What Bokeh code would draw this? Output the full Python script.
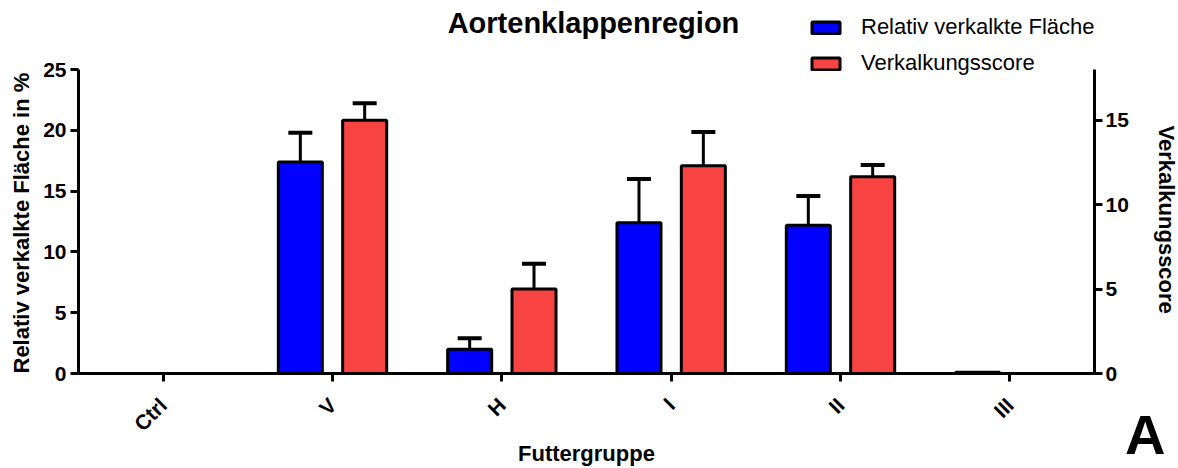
import math
from bokeh.plotting import figure
from bokeh.models import (FactorRange, Range1d, LinearAxis, FixedTicker, ColumnDataSource,
                          Legend, LegendItem, Label, Whisker, TeeHead, Title)
from bokeh.transform import dodge
from bokeh.embed import file_html
from bokeh.resources import INLINE

# ---- data ----
groups = ["Ctrl", "V", "H", "I", "II", "III"]
area_mean = [0.0, 17.4, 2.0, 12.4, 12.2, 0.1]      # Relativ verkalkte Fläche in %
area_err = [0.0, 2.4, 0.9, 3.6, 2.4, 0.0]
score_mean = [0.0, 15.0, 5.0, 12.3, 11.65, 0.0]    # Verkalkungsscore
score_err = [0.0, 1.0, 1.5, 2.0, 0.7, 0.0]
left_ticks = [0, 5, 10, 15, 20, 25]
right_ticks = [0, 5, 10, 15]
left_max = 25
right_max = 18

FONT = "Liberation Sans"
BLUE = "#0000ff"
RED = "#f84343"

# layout (pixels)
FRAME_W, FRAME_H = 1016, 373     # frame reaches the top of the canvas
AXIS_H = 304                     # drawn length of the y axes

src = ColumnDataSource(dict(group=groups, area=area_mean, score=score_mean))

def err_source(means, errs):
    g = [gr for gr, e in zip(groups, errs) if e > 0]
    lo = [m for m, e in zip(means, errs) if e > 0]
    up = [m + e for m, e in zip(means, errs) if e > 0]
    return ColumnDataSource(dict(group=g, lower=lo, upper=up))

area_err_src = err_source(area_mean, area_err)
score_err_src = err_source(score_mean, score_err)

p = figure(x_range=FactorRange(*groups),
           y_range=Range1d(0, left_max * FRAME_H / AXIS_H),
           frame_width=FRAME_W, frame_height=FRAME_H,
           min_border_left=78, min_border_right=84, min_border_top=0, min_border_bottom=95,
           title=None, toolbar_location=None, output_backend="svg")
p.extra_y_ranges = {"score": Range1d(0, right_max * FRAME_H / AXIS_H)}
p.outline_line_color = None
p.xgrid.visible = False
p.ygrid.visible = False
p.background_fill_color = "white"
p.border_fill_color = "white"

OFF = 0.19
BW = 0.26

# error bars (upper only)
p.add_layout(Whisker(base=dodge("group", -OFF, range=p.x_range), lower="lower", upper="upper",
                     source=area_err_src, dimension="height", line_width=3, line_color="black",
                     upper_head=TeeHead(size=24, line_width=4, line_color="black"), lower_head=None))
p.add_layout(Whisker(base=dodge("group", OFF, range=p.x_range), lower="lower", upper="upper",
                     source=score_err_src, dimension="height", line_width=3, line_color="black",
                     y_range_name="score",
                     upper_head=TeeHead(size=24, line_width=4, line_color="black"), lower_head=None))

r1 = p.vbar(x=dodge("group", -OFF, range=p.x_range), top="area", bottom=0, width=BW, source=src,
            fill_color=BLUE, line_color="black", line_width=3)
r2 = p.vbar(x=dodge("group", OFF, range=p.x_range), top="score", bottom=0, width=BW, source=src,
            fill_color=RED, line_color="black", line_width=3, y_range_name="score")

right = LinearAxis(y_range_name="score", ticker=FixedTicker(ticks=right_ticks), bounds=(0, right_max))
p.add_layout(right, "right")
p.yaxis[0].ticker = FixedTicker(ticks=left_ticks)
p.yaxis[0].bounds = (0, left_max)

for ax in [p.xaxis[0], p.yaxis[0], right]:
    ax.axis_line_width = 3
    ax.axis_line_color = "black"
    ax.major_tick_line_width = 3
    ax.major_tick_line_color = "black"
    ax.major_tick_out = 8
    ax.major_tick_in = 0
    ax.minor_tick_out = 0
    ax.minor_tick_in = 0
    ax.major_label_text_font = FONT
    ax.major_label_text_font_style = "bold"
    ax.major_label_text_font_size = "21px"
    ax.major_label_text_color = "black"
    ax.axis_label_text_font = FONT
    ax.axis_label_text_font_style = "bold"
    ax.axis_label_text_font_size = "22px"
    ax.axis_label_text_color = "black"

p.yaxis[0].major_label_standoff = 4
right.major_label_standoff = 3
p.xaxis[0].axis_label = "Futtergruppe"
p.xaxis[0].major_label_orientation = math.pi / 4
p.xaxis[0].major_label_standoff = 20
p.xaxis[0].axis_label_standoff = -5

# y-axis titles, aligned to the drawn part of the axes
p.add_layout(Title(text="Relativ verkalkte Fläche in %", align="left", vertical_align="top",
                   offset=0, standoff=-63, text_font=FONT, text_font_style="bold",
                   text_font_size="22px", text_color="black"), "left")
p.add_layout(Title(text="Verkalkungsscore", align="left", vertical_align="top",
                   offset=125, standoff=-95, text_font=FONT, text_font_style="bold",
                   text_font_size="22px", text_color="black"), "right")

legend = Legend(items=[LegendItem(label="Relativ verkalkte Fläche", renderers=[r1]),
                       LegendItem(label="Verkalkungsscore", renderers=[r2])],
                location=(730, 297), padding=0, margin=0, spacing=10,
                glyph_width=35, glyph_height=15, label_height=25, label_standoff=18,
                label_text_font=FONT, label_text_font_size="22px", label_text_color="black",
                border_line_color=None, background_fill_alpha=0)
p.add_layout(legend)

p.add_layout(Label(x=515, y=351, x_units="screen", y_units="screen", text="Aortenklappenregion",
                   text_font=FONT, text_font_style="bold", text_font_size="29px",
                   text_align="center", text_baseline="alphabetic", text_color="black"))

# panel letter, placed in the bottom border
p.add_layout(Title(text="A", align="right", vertical_align="top", offset=-71, standoff=-134,
                   text_font=FONT, text_font_style="bold", text_font_size="56px",
                   text_color="black"), "below")

open("out.html", "w").write(file_html(p, INLINE))
